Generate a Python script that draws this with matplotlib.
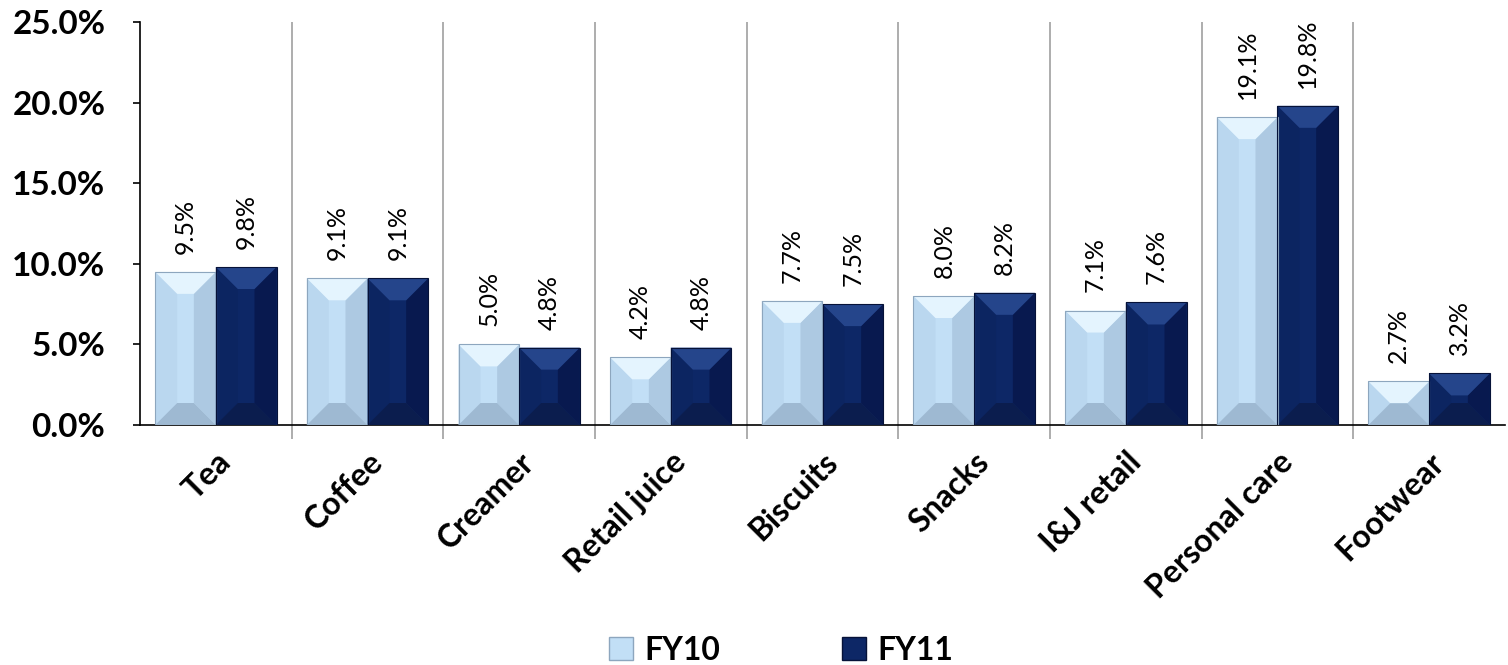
"""FY10 vs FY11 share by category, bevelled bar chart."""
import matplotlib
matplotlib.use("Agg")
import matplotlib.pyplot as plt
import numpy as np
from matplotlib.patches import Polygon, Patch

CATEGORIES = ["Tea", "Coffee", "Creamer", "Retail juice", "Biscuits",
              "Snacks", "I&J retail", "Personal care", "Footwear"]
FY10 = [9.5, 9.1, 5.0, 4.2, 7.7, 8.0, 7.1, 19.1, 2.7]
FY11 = [9.8, 9.1, 4.8, 4.8, 7.5, 8.2, 7.6, 19.8, 3.2]
SERIES_NAMES = ["FY10", "FY11"]

# face, top, bottom, left, right, edge
SHADES = {
    "FY10": ("#C2DFF6", "#E4F4FE", "#9EB9D2", "#BAD7EF", "#ADC9E2", "#8DA6BE"),
    "FY11": ("#0D2766", "#25458B", "#0B1D4E", "#0C2561", "#08194F", "#061238"),
}

FONT = "Lato"
W_PX, H_PX = 1508, 665
DPI = 100
BAR_W = 0.4
BEVEL_PX = 22
YMAX = 25.0

fig = plt.figure(figsize=(W_PX / DPI, H_PX / DPI), dpi=DPI)
ax_l, ax_r = 140 / W_PX, 1505 / W_PX
ax_b, ax_t = 1 - 425 / H_PX, 1 - 22 / H_PX
ax = fig.add_axes([ax_l, ax_b, ax_r - ax_l, ax_t - ax_b])

x = np.arange(len(CATEGORIES))
ax.set_xlim(-0.5, len(CATEGORIES) - 0.5)
ax.set_ylim(0, YMAX)

# data units per pixel
dx_px = len(CATEGORIES) / ((ax_r - ax_l) * W_PX)
dy_px = YMAX / ((ax_t - ax_b) * H_PX)


def bevel_bar(x0, h, shades):
    face, top, bot, left, right, edge = shades
    w = BAR_W
    ax.bar(x0, h, width=w, align="edge", color=face, edgecolor="none", zorder=3)
    d = min(BEVEL_PX, h / dy_px / 2, w / dx_px / 2)
    ddx, ddy = d * dx_px, d * dy_px
    x1 = x0 + w
    polys = [
        ([(x0, 0), (x0, h), (x0 + ddx, h - ddy), (x0 + ddx, ddy)], left),
        ([(x1, 0), (x1, h), (x1 - ddx, h - ddy), (x1 - ddx, ddy)], right),
        ([(x0, h), (x1, h), (x1 - ddx, h - ddy), (x0 + ddx, h - ddy)], top),
        ([(x0, 0), (x1, 0), (x1 - ddx, ddy), (x0 + ddx, ddy)], bot),
    ]
    for pts, c in polys:
        ax.add_patch(Polygon(pts, closed=True, facecolor=c, edgecolor="none", zorder=4))
    ax.bar(x0, h, width=w, align="edge", facecolor="none", edgecolor=edge,
           lw=0.8, zorder=5)


for i in range(len(CATEGORIES)):
    for j, (name, vals) in enumerate(zip(SERIES_NAMES, [FY10, FY11])):
        x0 = x[i] - BAR_W + j * BAR_W
        bevel_bar(x0, vals[i], SHADES[name])
        ax.annotate(f"{vals[i]:.1f}%", (x0 + BAR_W / 2, vals[i]),
                    xytext=(0, 13), textcoords="offset points",
                    rotation=90, ha="center", va="bottom",
                    fontsize=18, family=FONT, color="black")

# category separators
for b in x[:-1] + 0.5:
    ax.axvline(b, color="#A0A0A0", lw=1.2, zorder=1)

ax.set_yticks(np.arange(0, YMAX + 0.1, 5))
ax.set_yticklabels([f"{v:.1f}%" for v in np.arange(0, YMAX + 0.1, 5)],
                   fontsize=24, fontweight="bold", family=FONT)
ax.set_xticks(x)
ax.set_xticklabels(CATEGORIES, rotation=45, ha="right", rotation_mode="anchor",
                   fontsize=23, fontweight="bold", family=FONT)
ax.tick_params(axis="x", length=0, pad=16)
ax.set_xticks(x[:-1] + 0.5, minor=True)
ax.tick_params(axis="x", which="minor", length=10, color="#A0A0A0", width=1.2)
ax.tick_params(axis="y", length=5, width=1.2, pad=20)

for s in ["top", "right"]:
    ax.spines[s].set_visible(False)
ax.spines["left"].set_linewidth(1.2)
ax.spines["bottom"].set_linewidth(1.2)

handles = [Patch(facecolor=SHADES[n][0], edgecolor=SHADES[n][5], label=n)
           for n in SERIES_NAMES]
fig.legend(handles=handles, loc="center", bbox_to_anchor=(0.518, 0.022),
           ncol=2, frameon=False, columnspacing=3.8, handlelength=0.75,
           handleheight=0.75, handletextpad=0.35,
           prop={"family": FONT, "weight": "bold", "size": 23})

fig.savefig("out.png", dpi=DPI)
